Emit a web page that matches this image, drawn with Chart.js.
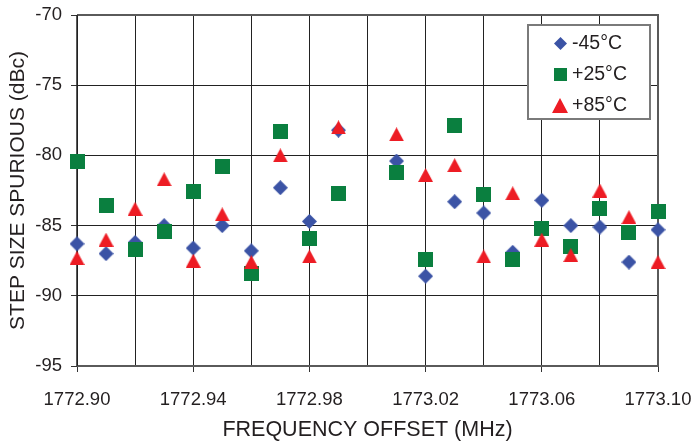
<!DOCTYPE html>
<html>
<head>
<meta charset="utf-8">
<script src="https://cdn.jsdelivr.net/npm/chart.js@4.4.0/dist/chart.umd.min.js"></script>
<style>
    html, body {
        margin: 0;
        padding: 0;
        background: #fff;
    }

    .wrap {
        width: 695px;
        height: 444px;
    }
</style>
</head>
<body>
<div class="wrap"><canvas id="chart" width="695" height="444"></canvas></div>
<script>
    // frequency offsets (MHz) - no reading at 1773.00
    var freq = [1772.90, 1772.91, 1772.92, 1772.93, 1772.94, 1772.95, 1772.96, 1772.97, 1772.98, 1772.99,
        1773.01, 1773.02, 1773.03, 1773.04, 1773.05, 1773.06, 1773.07, 1773.08, 1773.09, 1773.10];

    // step size spurious (dBc)
    var minus45 = [-86.3, -87.0, -86.2, -85.0, -86.6, -85.0, -86.8, -82.3, -84.7, -78.2,
        -80.4, -88.6, -83.3, -84.1, -86.9, -83.2, -85.0, -85.1, -87.6, -85.3];
    var plus25 = [-80.4, -83.6, -86.7, -85.4, -82.6, -80.8, -88.4, -78.3, -85.9, -82.7,
        -81.2, -87.4, -77.9, -82.8, -87.4, -85.2, -86.5, -83.8, -85.5, -84.0];
    var plus85 = [-87.3, -86.0, -83.8, -81.7, -87.5, -84.2, -87.6, -80.0, -87.2, -78.0,
        -78.5, -81.4, -80.7, -87.2, -82.7, -86.0, -87.1, -82.5, -84.4, -87.6];

    var seriesNames = ['-45°C', '+25°C', '+85°C'];

    var xGrid = [1772.90, 1772.92, 1772.94, 1772.96, 1772.98, 1773.00, 1773.02, 1773.04, 1773.06, 1773.08, 1773.10];
    var xLabels = [1772.90, 1772.94, 1772.98, 1773.02, 1773.06, 1773.10];
    var yTicks = [-95, -90, -85, -80, -75, -70];

    var colors = {
        blue: '#3b53a5',
        green: '#0a7f3f',
        red: '#ed1c24'
    };

    var FONT = 'Liberation Sans, Arial, Helvetica, sans-serif';
    var TEXT = '#231f20';

    function makeMarker(shape, w, h, color) {
        var c = document.createElement('canvas');
        c.width = Math.ceil(w);
        c.height = Math.ceil(h);
        var g = c.getContext('2d');
        g.fillStyle = color;
        g.beginPath();
        if (shape === 'diamond') {
            g.moveTo(w / 2, 0);
            g.lineTo(w, h / 2);
            g.lineTo(w / 2, h);
            g.lineTo(0, h / 2);
        } else if (shape === 'triangle') {
            g.moveTo(w / 2, 0);
            g.lineTo(w, h);
            g.lineTo(0, h);
        } else {
            g.rect(0, 0, w, h);
        }
        g.closePath();
        g.fill();
        return c;
    }

    var markers = [
        makeMarker('diamond', 15, 15, colors.blue),
        makeMarker('square', 15, 15, colors.green),
        makeMarker('triangle', 15, 14, colors.red)
    ];
    var legendMarkers = [
        makeMarker('diamond', 13, 13, colors.blue),
        makeMarker('square', 13, 13, colors.green),
        makeMarker('triangle', 16, 15, colors.red)
    ];

    function toPoints(ys) {
        return freq.map(function(f, i) {
            return { x: f, y: ys[i] };
        });
    }

    function isLabeled(v) {
        return xLabels.some(function(l) {
            return Math.abs(l - v) < 1e-6;
        });
    }

    // plot frame
    var framePlugin = {
        id: 'frame',
        beforeDatasetsDraw: function(chart) {
            var a = chart.chartArea;
            var ctx = chart.ctx;
            ctx.save();
            ctx.strokeStyle = '#5a5a5a';
            ctx.lineWidth = 2;
            ctx.beginPath();
            ctx.moveTo(a.left, a.top);
            ctx.lineTo(a.right, a.top);
            ctx.lineTo(a.right, a.bottom);
            ctx.lineTo(a.left, a.bottom);
            ctx.stroke();
            ctx.strokeStyle = '#222';
            ctx.lineWidth = 1.5;
            ctx.beginPath();
            ctx.moveTo(a.left, a.top);
            ctx.lineTo(a.left, a.bottom);
            ctx.stroke();
            ctx.restore();
        }
    };

    // boxed legend inside the plot, top right
    var boxLegend = {
        id: 'boxLegend',
        afterDatasetsDraw: function(chart) {
            var a = chart.chartArea;
            var ctx = chart.ctx;
            var w = 122, h = 94;
            var x0 = a.right - 8 - w;
            var y0 = a.top + 10;
            ctx.save();
            ctx.fillStyle = '#fff';
            ctx.fillRect(x0, y0, w, h);
            ctx.strokeStyle = '#7a7a7a';
            ctx.lineWidth = 2;
            ctx.strokeRect(x0, y0, w, h);
            ctx.font = '19.5px ' + FONT;
            ctx.fillStyle = TEXT;
            ctx.textBaseline = 'middle';
            for (var i = 0; i < seriesNames.length; i++) {
                var cy = y0 + 18 + i * 31;
                var m = legendMarkers[i];
                ctx.drawImage(m, Math.round(x0 + 32 - m.width / 2), Math.round(cy - m.height / 2));
                ctx.fillText(seriesNames[i], x0 + 44, cy + 1);
            }
            ctx.restore();
        }
    };

    var ctx = document.getElementById('chart').getContext('2d');
    var chart = new Chart(ctx, {
        type: 'scatter',
        data: {
            datasets: [{
                label: seriesNames[0],
                data: toPoints(minus45),
                pointStyle: markers[0],
                backgroundColor: colors.blue,
                order: 3,
                clip: false
            }, {
                label: seriesNames[1],
                data: toPoints(plus25),
                pointStyle: markers[1],
                backgroundColor: colors.green,
                order: 2,
                clip: false
            }, {
                label: seriesNames[2],
                data: toPoints(plus85),
                pointStyle: markers[2],
                backgroundColor: colors.red,
                order: 1,
                clip: false
            }]
        },
        options: {
            responsive: false,
            animation: false,
            events: [],
            layout: {
                padding: { top: 15, right: 37, left: 0, bottom: 0 }
            },
            plugins: {
                legend: { display: false },
                tooltip: { enabled: false }
            },
            scales: {
                x: {
                    type: 'linear',
                    min: 1772.90,
                    max: 1773.10,
                    afterBuildTicks: function(s) {
                        s.ticks = xGrid.map(function(v) { return { value: v }; });
                    },
                    afterFit: function(s) {
                        s.height = 78;
                        s.paddingLeft = 0;
                        s.paddingRight = 0;
                    },
                    border: { display: false },
                    grid: {
                        color: '#222',
                        lineWidth: 1,
                        tickLength: 6,
                        tickColor: function(c) {
                            return c.tick && isLabeled(c.tick.value) ? '#333' : 'rgba(0,0,0,0)';
                        }
                    },
                    ticks: {
                        autoSkip: false,
                        maxRotation: 0,
                        padding: 17,
                        color: TEXT,
                        font: { family: FONT, size: 18.5 },
                        callback: function(v) {
                            return isLabeled(v) ? v.toFixed(2) : '';
                        }
                    },
                    title: {
                        display: true,
                        text: 'FREQUENCY OFFSET (MHz)',
                        color: TEXT,
                        font: { family: FONT, size: 21.5 },
                        padding: { top: 2, bottom: 1 }
                    }
                },
                y: {
                    min: -95,
                    max: -70,
                    afterBuildTicks: function(s) {
                        s.ticks = yTicks.map(function(v) { return { value: v }; });
                    },
                    afterFit: function(s) {
                        s.width = 77;
                        s.paddingTop = 0;
                        s.paddingBottom = 0;
                    },
                    border: { display: false },
                    grid: {
                        color: '#222',
                        lineWidth: 1,
                        tickLength: 6,
                        tickColor: '#333'
                    },
                    ticks: {
                        padding: 9,
                        color: TEXT,
                        font: { family: FONT, size: 18.5 }
                    },
                    title: {
                        display: true,
                        text: 'STEP SIZE SPURIOUS (dBc)',
                        color: TEXT,
                        font: { family: FONT, size: 21 },
                        padding: { top: 6, bottom: 0 }
                    }
                }
            }
        },
        plugins: [framePlugin, boxLegend]
    });
</script>
</body>
</html>
